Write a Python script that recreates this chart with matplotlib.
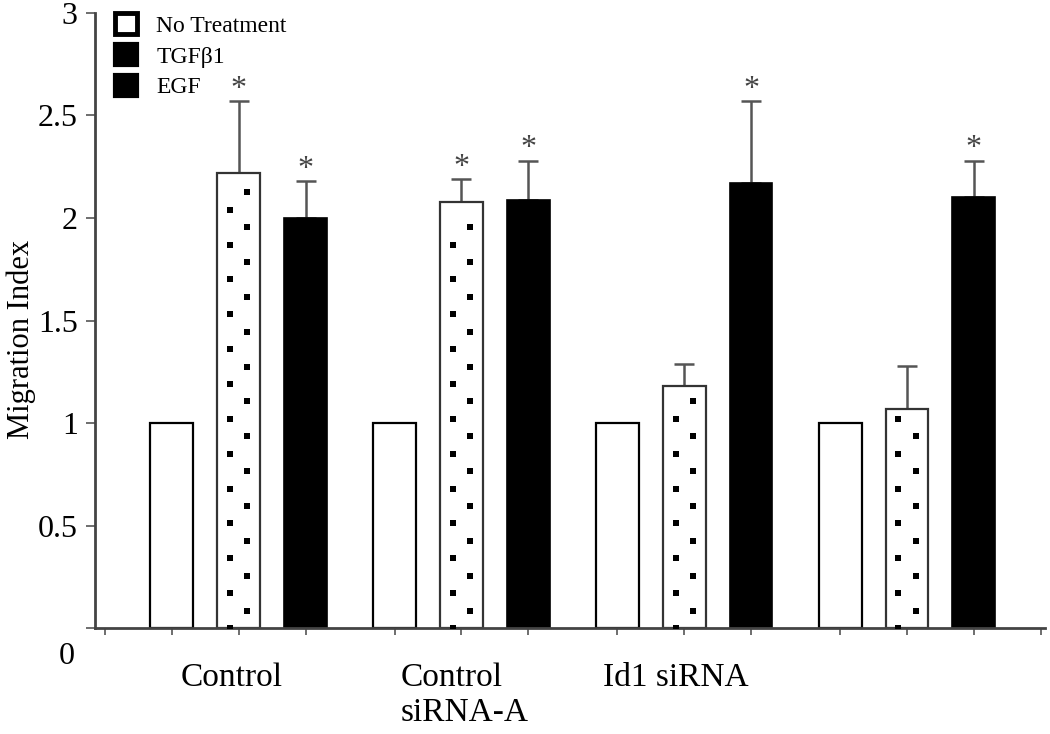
import numpy as np
import matplotlib
matplotlib.use('Agg')
import matplotlib.pyplot as plt
from matplotlib.patches import Patch
from matplotlib.transforms import ScaledTranslation

plt.rcParams['font.family'] = ['Liberation Serif', 'DejaVu Serif']

# Dados
grupos = ['Control', 'Control\nsiRNA-A', 'Id1 siRNA', '']
sem_tratamento = [1.0, 1.0, 1.0, 1.0]
tgfb1 = [2.22, 2.08, 1.18, 1.07]
tgfb1_erro = [0.35, 0.11, 0.11, 0.21]
egf = [2.00, 2.09, 2.17, 2.10]
egf_erro = [0.18, 0.19, 0.40, 0.18]
tgfb1_sig = [True, True, False, False]
egf_sig = [True, True, True, True]
series_nomes = ['No Treatment', 'TGF\u03b21', 'EGF']

cinza = '#555555'
largura = 0.64
passo_grupo = 10 / 3

fig = plt.figure(figsize=(10.5, 7.34), dpi=100)
ax = fig.add_axes([0.0905, 0.1444, 0.905, 0.8379])

n = len(grupos)
base = 1 + np.arange(n) * passo_grupo
x_nt = base
x_tg = base + 1
x_egf = base + 2

# Barras
ax.bar(x_nt, sem_tratamento, largura, color='white', edgecolor='black', linewidth=1.6, zorder=2)
ax.bar(x_tg, tgfb1, largura, color='white', edgecolor='#333333', linewidth=1.6, zorder=2)
ax.bar(x_egf, egf, largura, color='black', edgecolor='black', linewidth=1.2, zorder=2)

# Padrão de pontos nas barras de TGFβ1
passo = 0.085
for xc, h in zip(x_tg, tgfb1):
    ks = np.arange(0, int(h / passo) + 1)
    ys = ks * passo
    ok = ys < h - 0.04
    xs = np.where(ks % 2 == 0, xc - 0.13, xc + 0.13)
    ax.scatter(xs[ok], ys[ok], s=20, marker='s', color='black', linewidths=0, zorder=3)

# Barras de erro (só para cima)
ax.errorbar(x_tg, tgfb1, yerr=[np.zeros(n), tgfb1_erro], fmt='none', ecolor=cinza,
            elinewidth=1.8, capsize=7, capthick=1.8, zorder=1)
ax.errorbar(x_egf, egf, yerr=[np.zeros(n), egf_erro], fmt='none', ecolor=cinza,
            elinewidth=1.8, capsize=7, capthick=1.8, zorder=1)

# Asteriscos de significância
for xs, vals, errs, sig in [(x_tg, tgfb1, tgfb1_erro, tgfb1_sig), (x_egf, egf, egf_erro, egf_sig)]:
    for xi, v, e, s in zip(xs, vals, errs, sig):
        if s:
            ax.annotate('*', (xi, v + e), xytext=(0, -2), textcoords='offset points',
                        ha='center', va='bottom', fontsize=23, color='#444444')

# Eixos
ax.set_ylim(0, 3)
ax.set_xlim(-0.15, 14.07)
ax.set_yticks([0, 0.5, 1, 1.5, 2, 2.5, 3])
ax.set_yticklabels(['0', '0.5', '1', '1.5', '2', '2.5', '3'])
ax.tick_params(axis='y', length=6.5, width=1.2, color=cinza, labelsize=23, pad=6)
ax.set_ylabel('Migration Index', fontsize=22)
ax.yaxis.set_label_coords(-0.062, 0.47)

pos_ticks = np.concatenate([[0], np.sort(np.concatenate([x_nt, x_tg, x_egf])), [x_egf[-1] + 1]])
ax.set_xticks(pos_ticks)
ax.set_xticklabels([''] * len(pos_ticks))
ax.tick_params(axis='x', which='major', length=5, width=1.2, color=cinza)
desloc_rotulo = np.array([-0.1, 0.05, -0.12, 0.0])
ax.set_xticks(x_tg + desloc_rotulo, grupos, minor=True)
ax.tick_params(axis='x', which='minor', length=0, labelsize=24, pad=25)
for lab in ax.get_xticklabels(minor=True):
    lab.set_multialignment('left')

# rótulo do zero fica mais abaixo no original
rot0 = ax.get_yticklabels()[0]
rot0.set_transform(rot0.get_transform() + ScaledTranslation(-0.03, -0.25, fig.dpi_scale_trans))

for lado in ['top', 'right']:
    ax.spines[lado].set_visible(False)
for lado in ['left', 'bottom']:
    ax.spines[lado].set_linewidth(2)
    ax.spines[lado].set_color('#444444')

# Legenda
alcas = [Patch(facecolor='white', edgecolor='black', linewidth=3.5),
         Patch(facecolor='black', edgecolor='black', linewidth=3),
         Patch(facecolor='black', edgecolor='black', linewidth=3)]
ax.legend(alcas, series_nomes, loc='upper left', bbox_to_anchor=(0.011, 1.015), frameon=False,
          fontsize=17, handlelength=0.95, handleheight=1.0, labelspacing=0.3, handletextpad=0.8,
          borderaxespad=0)

fig.savefig('out.png', dpi=100)
